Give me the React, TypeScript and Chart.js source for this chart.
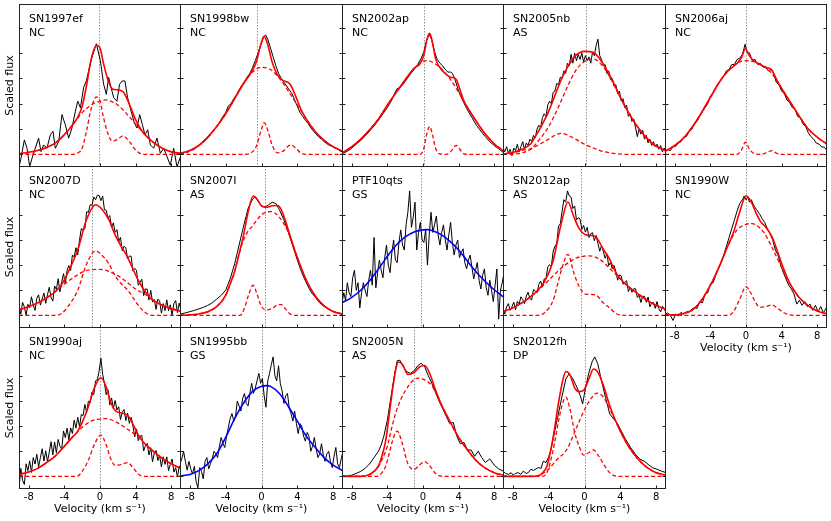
import React, { useEffect, useRef } from 'react';
import { Chart, registerables } from 'chart.js';

Chart.register(...registerables);
Chart.defaults.font.family = '"DejaVu Sans", sans-serif';

type Pt = [number, number];

// ---------- axis definitions ----------
const X_TICKS = [-8, -4, 0, 4, 8];
const Y_TICKS = [0, 1, 2, 3, 4, 5];
const X_MIN = -9.1;
const X_MAX = 9.1;
const Y_MIN = -0.5;
const Y_MAX = 5.94;
const X_TITLE = 'Velocity (km s\u207B\u00B9)';
const Y_TITLE = 'Scaled flux';

// fine velocity grid used by the noisy spectra (km/s)
const VEL_GRID = [
  -9.1, -8.9, -8.7, -8.5, -8.3, -8.1, -7.9, -7.7, -7.5, -7.3,
  -7.1, -6.9, -6.7, -6.5, -6.3, -6.1, -5.9, -5.7, -5.5, -5.3,
  -5.1, -4.9, -4.7, -4.5, -4.3, -4.1, -3.9, -3.7, -3.5, -3.3,
  -3.1, -2.9, -2.7, -2.5, -2.3, -2.1, -1.9, -1.7, -1.5, -1.3,
  -1.1, -0.9, -0.7, -0.5, -0.3, -0.1, 0.1, 0.3, 0.5, 0.7,
  0.9, 1.1, 1.3, 1.5, 1.7, 1.9, 2.1, 2.3, 2.5, 2.7,
  2.9, 3.1, 3.3, 3.5, 3.7, 3.9, 4.1, 4.3, 4.5, 4.7,
  4.9, 5.1, 5.3, 5.5, 5.7, 5.9, 6.1, 6.3, 6.5, 6.7,
  6.9, 7.1, 7.3, 7.5, 7.7, 7.9, 8.1, 8.3, 8.5, 8.7,
  8.9, 9.1,
];

// ---------- SN1997ef (NC) ----------
const SN1997EF_OBS: Pt[] = [[-9.1,-0.5],[-8.88,-0.16],[-8.5,0.57],[-8.2,0.24],[-7.9,-0.49],[-7.64,-0.16],[-7.27,0.24],[-6.9,0.64],[-6.63,0.11],[-6.33,0.37],[-5.96,0.24],[-5.58,0.77],[-5.28,0.91],[-5.02,0.24],[-4.64,0.51],[-4.27,1.57],[-3.9,1.17],[-3.52,0.64],[-3.15,1.04],[-2.77,1.7],[-2.5,2.1],[-2.2,1.84],[-1.84,2.64],[-1.54,2.9],[-1.27,3.3],[-0.9,3.84],[-0.41,4.37],[0.04,3.7],[0.41,2.77],[0.71,2.37],[0.97,3.04],[1.24,2.64],[1.54,2.24],[1.9,2.1],[2.2,2.77],[2.5,2.9],[2.8,2.9],[3.1,2.24],[3.5,1.7],[3.86,1.24],[4.16,1.04],[4.46,1.57],[4.76,1.17],[5.06,0.77],[5.36,0.97],[5.66,0.37],[6.03,0.24],[6.4,0.64],[6.78,0.04],[7.15,0.24],[7.53,-0.09],[7.9,-0.43],[8.28,0.24],[8.65,-0.5],[9.1,-0.03]];
const SN1997EF_FIT: Pt[] = [[-9.1,0.03],[-8,0.08],[-7,0.15],[-6,0.27],[-5,0.45],[-4,0.78],[-3,1.2],[-2.5,1.47],[-2,1.9],[-1.5,2.75],[-1,3.75],[-0.4,4.31],[0,4.2],[0.4,3.58],[0.9,2.94],[1.4,2.58],[1.9,2.55],[2.6,2.47],[3.3,1.98],[4,1.37],[4.6,0.98],[5,0.8],[6,0.47],[7,0.24],[8,0.1],[9.1,0.04]];
const SN1997EF_BROAD: Pt[] = [[-9.1,0.03],[-8,0.08],[-7,0.15],[-6,0.27],[-5,0.45],[-4,0.78],[-3,1.2],[-2,1.65],[-1,1.95],[0,2.1],[0.6,2.15],[1,2.13],[2,1.95],[3,1.6],[4,1.2],[5,0.8],[6,0.47],[7,0.24],[8,0.1],[9.1,0.04]];
const SN1997EF_NARROW: Pt[] = [[-9.1,0],[-3,0],[-2.5,0.05],[-2,0.25],[-1.5,0.95],[-1,1.8],[-0.4,2.27],[0,2.1],[0.4,1.45],[0.9,0.8],[1.4,0.52],[1.9,0.58],[2.6,0.73],[3.3,0.5],[4,0.17],[4.6,0.02],[5,0],[9.1,0]];

// ---------- SN1998bw (NC) ----------
const SN1998BW_OBS: Pt[] = [[-9.1,0.05],[-8.8,0.02],[-8.5,0.1],[-8.2,0.08],[-7.9,0.18],[-7.6,0.17],[-7.3,0.28],[-7,0.33],[-6.7,0.45],[-6.4,0.5],[-6.1,0.62],[-5.8,0.72],[-5.5,0.88],[-5.2,1.0],[-4.9,1.15],[-4.6,1.32],[-4.3,1.5],[-4,1.65],[-3.7,1.92],[-3.4,2.0],[-3.1,2.2],[-2.8,2.35],[-2.5,2.55],[-2.2,2.72],[-1.9,2.88],[-1.6,3.05],[-1.3,3.2],[-1,3.42],[-0.7,3.7],[-0.4,3.98],[-0.1,4.3],[0.2,4.6],[0.45,4.72],[0.7,4.55],[1,4.2],[1.3,3.85],[1.6,3.5],[1.9,3.2],[2.2,3.0],[2.5,2.85],[2.8,2.7],[3.1,2.55],[3.4,2.4],[3.7,2.15],[4,1.9],[4.3,1.65],[4.6,1.5],[4.9,1.35],[5.2,1.22],[5.5,1.05],[5.8,0.92],[6.1,0.8],[6.4,0.68],[6.7,0.6],[7,0.5],[7.3,0.42],[7.6,0.35],[7.9,0.32],[8.2,0.25],[8.5,0.22],[8.8,0.12],[9.1,0.1]];
const SN1998BW_FIT: Pt[] = [[-9.1,0.04],[-8,0.15],[-7,0.35],[-6,0.68],[-5,1.1],[-4,1.6],[-3,2.2],[-2,2.8],[-1.2,3.21],[-0.6,3.63],[0,4.44],[0.3,4.66],[0.7,4.33],[1.2,3.63],[1.8,3.13],[2.4,2.92],[3,2.83],[3.3,2.71],[3.8,2.31],[4.4,1.78],[5,1.4],[6,0.9],[7,0.55],[8,0.3],[9.1,0.12]];
const SN1998BW_BROAD: Pt[] = [[-9.1,0.04],[-8,0.15],[-7,0.35],[-6,0.68],[-5,1.1],[-4,1.6],[-3,2.2],[-2,2.8],[-1,3.25],[0,3.44],[1,3.35],[2,3.0],[3,2.5],[4,1.95],[5,1.4],[6,0.9],[7,0.55],[8,0.3],[9.1,0.12]];
const SN1998BW_NARROW: Pt[] = [[-9.1,0],[-1.8,0],[-1.2,0.05],[-0.6,0.3],[0,1.0],[0.3,1.25],[0.7,0.95],[1.2,0.35],[1.8,0.06],[2.4,0.12],[3,0.33],[3.3,0.37],[3.8,0.25],[4.4,0.05],[5,0],[9.1,0]];

// ---------- SN2002ap (NC) ----------
const SN2002AP_OBS: Pt[] = [[-9.1,0.03],[-8.5,0.12],[-8,0.25],[-7.5,0.4],[-7,0.55],[-6.5,0.72],[-6,0.92],[-5.5,1.12],[-5,1.35],[-4.5,1.6],[-4,1.85],[-3.5,2.15],[-3.2,2.4],[-2.9,2.6],[-2.6,2.62],[-2.2,2.78],[-1.8,2.98],[-1.4,3.18],[-1,3.35],[-0.6,3.55],[-0.2,3.8],[0.1,4.05],[0.4,4.5],[0.7,4.75],[1,4.5],[1.3,4.05],[1.6,3.75],[1.9,3.6],[2.2,3.5],[2.5,3.35],[2.8,3.25],[3.1,3.25],[3.3,3.2],[3.6,2.95],[4,2.5],[4.5,2.1],[5,1.75],[5.5,1.45],[6,1.15],[6.5,0.92],[7,0.7],[7.5,0.5],[8,0.35],[8.5,0.22],[9.1,0.05]];
const SN2002AP_FIT: Pt[] = [[-9.1,0.05],[-8,0.3],[-7,0.6],[-6,0.97],[-5,1.4],[-4,1.95],[-3,2.45],[-2,2.95],[-1,3.4],[-0.3,3.6],[0.1,3.93],[0.45,4.55],[0.75,4.78],[1.05,4.44],[1.4,3.8],[1.8,3.48],[2.6,3.16],[3.1,3.05],[3.6,3.0],[3.8,2.91],[4.1,2.61],[4.6,2.11],[5,1.85],[6,1.3],[7,0.8],[8,0.42],[9.1,0.12]];
const SN2002AP_BROAD: Pt[] = [[-9.1,0.05],[-8,0.3],[-7,0.6],[-6,0.97],[-5,1.4],[-4,1.95],[-3,2.45],[-2,2.95],[-1,3.4],[0,3.68],[0.5,3.7],[1,3.65],[2,3.4],[3,3.0],[4,2.45],[5,1.85],[6,1.3],[7,0.8],[8,0.42],[9.1,0.12]];
const SN2002AP_NARROW: Pt[] = [[-9.1,0],[-0.3,0],[0.1,0.25],[0.45,0.85],[0.75,1.1],[1.05,0.8],[1.4,0.25],[1.8,0.03],[2.6,0],[3.1,0.1],[3.6,0.33],[3.8,0.35],[4.1,0.22],[4.6,0.02],[5,0],[9.1,0]];

// ---------- SN2005nb (AS) ----------
const SN2005NB_OBS = [
  0.25, 0.1, 0.3, 0.05, 0.2, -0.05, 0.25, 0.15, 0.4, 0.1,
  0.3, 0.5, 0.2, 0.45, 0.35, 0.6, 0.5, 0.75, 0.65, 1.0,
  1.15, 1.05, 1.45, 1.6, 1.5, 1.95, 2.1, 2.0, 2.45, 2.5,
  2.8, 2.75, 3.05, 3.0, 3.3, 3.2, 3.6, 3.5, 3.95, 3.6,
  4.0, 3.7, 3.95, 3.75, 4.0, 3.65, 3.9, 3.7, 3.85, 3.6,
  4.05, 3.9, 4.3, 4.55, 3.9, 3.75, 3.5, 3.55, 3.2, 3.3,
  2.95, 3.0, 2.7, 2.75, 2.4, 2.5, 2.1, 2.2, 1.85, 1.95,
  1.5, 1.6, 1.3, 1.4, 1.05, 0.7, 1.0, 0.8, 0.95, 0.6,
  0.75, 0.45, 0.6, 0.35, 0.5, 0.3, 0.4, 0.2, 0.35, 0.1,
  0.25, 0.05,
];
const SN2005NB_FIT: Pt[] = [[-9.1,0.02],[-8,0.07],[-7,0.2],[-6,0.42],[-5.5,0.7],[-5,1.0],[-4,1.7],[-3,2.6],[-2.5,3.03],[-2,3.38],[-1,3.9],[0,4.07],[1,4.02],[2,3.62],[3,3.0],[4,2.26],[5,1.6],[6,1.05],[7,0.62],[8,0.32],[9.1,0.15]];
const SN2005NB_BROAD: Pt[] = [[-9.1,0],[-8,0.01],[-7,0.05],[-6,0.2],[-5.5,0.38],[-5,0.6],[-4,1.1],[-3,1.8],[-2,2.6],[-1,3.3],[0,3.67],[1,3.77],[2,3.5],[3,2.95],[4,2.25],[5,1.6],[6,1.05],[7,0.62],[8,0.32],[9.1,0.15]];
const SN2005NB_SIDE: Pt[] = [[-9.1,0.02],[-8,0.06],[-7,0.15],[-6,0.22],[-5,0.4],[-4,0.6],[-3,0.8],[-2.5,0.83],[-2,0.78],[-1,0.6],[0,0.4],[1,0.25],[2,0.12],[3,0.05],[4,0.01],[5,0],[9.1,0]];

// ---------- SN2006aj (NC) ----------
const SN2006AJ_OBS: Pt[] = [[-9.1,0.1],[-8.8,0.2],[-8.5,0.15],[-8.2,0.3],[-7.9,0.32],[-7.6,0.45],[-7.3,0.5],[-7,0.68],[-6.7,0.7],[-6.4,0.9],[-6.1,0.98],[-5.8,1.2],[-5.5,1.3],[-5.2,1.5],[-4.9,1.68],[-4.6,1.85],[-4.3,2.0],[-4,2.3],[-3.7,2.4],[-3.4,2.65],[-3.1,2.8],[-2.8,2.95],[-2.5,3.1],[-2.2,3.3],[-1.9,3.35],[-1.6,3.55],[-1.3,3.55],[-1,3.75],[-0.7,3.8],[-0.4,3.95],[-0.1,4.35],[0.1,4.05],[0.4,4.0],[0.7,3.7],[1,3.75],[1.3,3.55],[1.6,3.6],[1.9,3.45],[2.2,3.45],[2.5,3.3],[2.8,3.35],[3.1,3.2],[3.4,2.85],[3.7,2.75],[4,2.5],[4.3,2.4],[4.6,2.15],[4.9,2.05],[5.2,1.85],[5.5,1.8],[5.8,1.5],[6.1,1.45],[6.4,1.2],[6.7,1.1],[7,0.85],[7.3,0.7],[7.6,0.6],[7.9,0.45],[8.2,0.4],[8.5,0.3],[8.8,0.28],[9.1,0.15]];
const SN2006AJ_FIT: Pt[] = [[-9.1,0.12],[-8,0.35],[-7,0.65],[-6,1.1],[-5,1.65],[-4,2.25],[-3,2.85],[-2,3.3],[-1,3.6],[-0.5,3.83],[-0.07,4.17],[0.4,3.88],[0.9,3.69],[1.6,3.54],[2.3,3.43],[2.9,3.33],[3.4,2.98],[3.9,2.66],[5,2.05],[6,1.5],[7,1.0],[8,0.68],[9.1,0.4]];
const SN2006AJ_BROAD: Pt[] = [[-9.1,0.12],[-8,0.35],[-7,0.65],[-6,1.1],[-5,1.65],[-4,2.25],[-3,2.85],[-2,3.3],[-1,3.6],[0,3.7],[1,3.65],[2,3.47],[3,3.15],[4,2.6],[5,2.05],[6,1.5],[7,1.0],[8,0.68],[9.1,0.4]];
const SN2006AJ_NARROW: Pt[] = [[-9.1,0],[-1,0],[-0.5,0.18],[-0.07,0.48],[0.4,0.2],[0.9,0.03],[1.6,0],[2.3,0.06],[2.9,0.15],[3.4,0.05],[3.9,0],[9.1,0]];

// ---------- SN2007D (NC) ----------
const SN2007D_OBS = [
  0.38, 0.05, 0.52, 0.34, 0.01, 0.44, 0.31, 0.74, 0.42, 0.2,
  0.68, 0.82, 0.41, 0.65, 0.89, 0.48, 0.82, 1.12, 0.72, 0.57,
  1.17, 1.03, 1.46, 0.94, 1.34, 1.66, 1.25, 1.79, 1.98, 1.79,
  2.4, 2.32, 2.69, 2.41, 3.0, 3.45, 3.4, 3.45, 4.12, 4.1,
  4.4, 4.37, 4.71, 4.6, 4.77, 4.77, 4.56, 4.75, 4.2, 4.18,
  3.86, 3.97, 3.5, 3.68, 3.3, 3.41, 2.93, 3.1, 2.57, 2.75,
  2.69, 2.25, 2.36, 2.35, 1.76, 1.87, 1.8, 1.2, 1.32, 1.44,
  0.79, 1.05, 1.05, 0.61, 1.0, 0.53, 0.63, 0.24, 0.65, 0.57,
  0.09, 0.47, 0.19, 0.62, 0.19, 0.42, 0.0, 0.48, 0.59, 0.11,
  0.49, 0.22,
];
const SN2007D_FIT: Pt[] = [[-9.1,0.23],[-8,0.35],[-7,0.5],[-6,0.7],[-5,0.95],[-4.3,1.24],[-3.5,1.78],[-2.5,2.61],[-1.5,3.82],[-0.5,4.4],[0.2,4.23],[1,3.8],[1.7,3.2],[2.4,2.73],[3,2.38],[3.6,1.93],[4.2,1.46],[4.8,1.09],[5.5,0.76],[6,0.6],[7,0.4],[8,0.27],[9.1,0.17]];
const SN2007D_BROAD: Pt[] = [[-9.1,0.23],[-8,0.35],[-7,0.5],[-6,0.7],[-5,0.95],[-4,1.25],[-3,1.5],[-2,1.72],[-1,1.82],[0,1.83],[1,1.75],[2,1.58],[3,1.33],[4,1.05],[5,0.85],[6,0.6],[7,0.4],[8,0.27],[9.1,0.17]];
const SN2007D_NARROW: Pt[] = [[-9.1,0],[-5,0],[-4.3,0.08],[-3.5,0.4],[-2.5,1.0],[-1.5,2.05],[-0.5,2.57],[0.2,2.4],[1,2.05],[1.7,1.57],[2.4,1.25],[3,1.05],[3.6,0.77],[4.2,0.45],[4.8,0.2],[5.5,0.03],[6,0],[9.1,0]];

// ---------- SN2007I (AS) ----------
const SN2007I_OBS: Pt[] = [[-9.1,0.05],[-8.5,0.1],[-8,0.15],[-7.5,0.2],[-7,0.26],[-6.5,0.32],[-6,0.4],[-5.5,0.5],[-5,0.65],[-4.5,0.8],[-4,1.0],[-3.5,1.45],[-3,2.05],[-2.5,2.8],[-2,3.55],[-1.5,4.25],[-1,4.62],[-0.7,4.72],[-0.4,4.55],[0,4.35],[0.4,4.3],[0.8,4.4],[1.2,4.5],[1.6,4.45],[2,4.2],[2.5,3.8],[3,3.3],[3.5,2.75],[4,2.2],[4.5,1.7],[5,1.3],[5.5,0.95],[6,0.72],[6.5,0.5],[7,0.35],[7.5,0.25],[8,0.15],[8.5,0.1],[9.1,0.05]];
const SN2007I_FIT: Pt[] = [[-9.1,0],[-8,0.02],[-7,0.06],[-6,0.15],[-5,0.35],[-4,0.8],[-3.5,1.25],[-3,1.75],[-2.5,2.45],[-2,3.2],[-1.5,4.1],[-0.94,4.75],[-0.5,4.63],[0,4.35],[0.6,4.3],[1.2,4.36],[1.8,4.37],[2.2,4.21],[2.7,3.73],[3.2,3.16],[3.8,2.5],[5,1.4],[6,0.77],[7,0.38],[8,0.16],[9.1,0.05]];
const SN2007I_BROAD: Pt[] = [[-9.1,0],[-8,0.02],[-7,0.06],[-6,0.15],[-5,0.35],[-4,0.8],[-3.5,1.25],[-3,1.75],[-2.5,2.45],[-2,3.0],[-1.5,3.35],[-1,3.55],[-0.5,3.8],[0,4.0],[1,4.13],[2,3.9],[3,3.3],[4,2.3],[5,1.4],[6,0.77],[7,0.38],[8,0.16],[9.1,0.05]];
const SN2007I_NARROW: Pt[] = [[-9.1,0],[-2.4,0],[-2,0.2],[-1.5,0.75],[-0.94,1.2],[-0.5,0.85],[0,0.35],[0.6,0.22],[1.2,0.28],[1.8,0.42],[2.2,0.43],[2.7,0.25],[3.2,0.06],[3.8,0],[9.1,0]];

// ---------- PTF10qts (GS) ----------
const PTF10QTS_OBS = [
  0.5, 0.9, 0.6, 1.3, 0.9, 0.75, 1.5, 1.8, 1.0, 1.3,
  0.3, 0.9, 1.3, 1.0, 0.75, 1.4, 1.8, 1.2, 3.1, 1.1,
  1.7, 2.2, 1.8, 1.5, 2.3, 2.8, 2.0, 1.7, 2.5, 3.0,
  2.2, 2.1, 2.9, 3.4, 2.8, 2.6, 3.6, 4.1, 4.95, 3.5,
  3.9, 4.5, 2.6, 3.3, 3.7, 3.0, 2.9, 3.4, 2.0, 3.2,
  4.1, 3.3, 3.6, 3.95, 3.2, 2.8, 3.3, 3.6, 3.0, 2.6,
  3.2, 3.7, 2.9, 2.4, 2.8, 3.0, 2.3, 2.5, 2.65, 2.1,
  1.85, 2.2, 2.4, 1.9, 1.45, 1.8, 2.1, 1.4, 1.05, 1.6,
  1.85, 1.1, 0.8, 1.4, 1.0, 0.55, 1.2, 1.85, -0.15, 1.0,
  1.3, 1.7,
];
const PTF10QTS_FIT: Pt[] = [[-9.1,0.5],[-8,0.72],[-7,1.0],[-6,1.38],[-5,1.85],[-4,2.35],[-3,2.8],[-2,3.12],[-1,3.32],[0,3.4],[0.5,3.41],[1,3.38],[2,3.22],[3,2.95],[4,2.6],[5,2.15],[6,1.72],[7,1.35],[8,1.02],[9.1,0.72]];

// ---------- SN2012ap (AS) ----------
const SN2012AP_OBS = [
  0.23, 0.06, 0.34, 0.47, 0.2, 0.34, 0.53, 0.22, 0.56, 0.45,
  0.74, 0.63, 0.47, 0.77, 0.92, 0.67, 0.62, 1.02, 0.98, 0.9,
  1.23, 1.37, 1.13, 1.45, 1.45, 1.92, 2.02, 1.95, 2.55, 2.75,
  2.85, 3.55, 3.65, 4.15, 4.6, 4.5, 4.95, 4.75, 4.7, 4.25,
  4.35, 3.8, 3.88, 3.84, 3.42, 3.58, 3.31, 3.5, 3.1, 3.25,
  3.29, 2.97, 3.18, 2.87, 2.55, 2.77, 2.55, 2.27, 2.45, 1.98,
  2.11, 1.85, 1.99, 1.74, 1.4, 1.61, 1.57, 1.24, 1.31, 1.38,
  0.95, 1.13, 0.92, 1.06, 1.06, 0.71, 0.81, 0.51, 0.76, 0.76,
  0.52, 0.73, 0.34, 0.5, 0.51, 0.28, 0.55, 0.27, 0.14, 0.36,
  0.28, 0.1,
];
const SN2012AP_FIT: Pt[] = [[-9.1,0.15],[-8,0.3],[-7,0.5],[-6,0.75],[-5.5,0.9],[-4.5,1.32],[-3.5,2.17],[-3,3.0],[-2.5,3.8],[-1.85,4.51],[-1.2,3.93],[-0.6,3.46],[0.1,3.21],[1.2,3.14],[2.1,2.63],[2.8,2.24],[3.5,1.7],[4.2,1.38],[5,1.12],[6,0.85],[7,0.6],[8,0.4],[9.1,0.24]];
const SN2012AP_BROAD: Pt[] = [[-9.1,0.15],[-8,0.3],[-7,0.5],[-6,0.75],[-5,1.05],[-4,1.4],[-3,1.75],[-2,2.05],[-1,2.27],[0,2.36],[0.5,2.37],[1,2.35],[2,2.15],[3,1.8],[4,1.45],[5,1.12],[6,0.85],[7,0.6],[8,0.4],[9.1,0.24]];
const SN2012AP_NARROW: Pt[] = [[-9.1,0],[-5.5,0],[-4.5,0.1],[-3.5,0.6],[-3,1.25],[-2.5,1.9],[-1.85,2.43],[-1.2,1.7],[-0.6,1.15],[0.1,0.85],[1.2,0.82],[2.1,0.5],[2.8,0.3],[3.5,0.08],[4.2,0],[9.1,0]];

// ---------- SN1990W (NC) ----------
const SN1990W_OBS: Pt[] = [[-9.1,0.05],[-8.8,0.1],[-8.5,0.0],[-8.2,-0.2],[-7.9,0.05],[-7.6,-0.02],[-7.3,0.12],[-7.0,0.05],[-6.7,0.15],[-6.4,0.12],[-6.1,0.25],[-5.8,0.3],[-5.5,0.28],[-5.2,0.55],[-4.9,0.5],[-4.6,0.85],[-4.3,0.9],[-4.0,1.25],[-3.7,1.3],[-3.4,1.6],[-3.1,1.85],[-2.8,2.1],[-2.5,2.4],[-2.2,2.75],[-1.9,3.1],[-1.6,3.45],[-1.3,3.8],[-1.0,4.15],[-0.7,4.45],[-0.4,4.6],[-0.2,4.75],[0.0,4.6],[0.2,4.7],[0.4,4.5],[0.6,4.6],[0.9,4.35],[1.2,4.2],[1.5,4.05],[1.8,3.85],[2.1,3.7],[2.4,3.45],[2.7,3.25],[3.0,3.0],[3.3,2.6],[3.6,2.4],[3.9,2.0],[4.2,1.7],[4.5,1.45],[4.8,1.2],[5.1,1.05],[5.4,0.85],[5.7,0.45],[6.0,0.6],[6.3,0.4],[6.6,0.55],[6.9,0.35],[7.2,0.45],[7.5,0.2],[7.8,0.4],[8.1,0.15],[8.4,0.35],[8.7,0.1],[9.1,0.35]];
const SN1990W_FIT: Pt[] = [[-9.1,0.03],[-8,0.02],[-7,0.08],[-6,0.22],[-5,0.6],[-4,1.2],[-3,1.95],[-2,2.8],[-1.4,3.31],[-0.7,4.12],[0,4.76],[0.6,4.5],[1.1,4.09],[1.6,3.75],[2.2,3.52],[2.9,3.14],[3.5,2.58],[4.2,1.88],[4.9,1.29],[5.5,0.95],[6,0.7],[7,0.38],[8,0.18],[9.1,0.06]];
const SN1990W_BROAD: Pt[] = [[-9.1,0.03],[-8,0.02],[-7,0.08],[-6,0.22],[-5,0.6],[-4,1.2],[-3,1.95],[-2,2.8],[-1,3.4],[0,3.62],[0.7,3.65],[1,3.62],[2,3.3],[3,2.65],[4,1.9],[5,1.2],[6,0.7],[7,0.38],[8,0.18],[9.1,0.06]];
const SN1990W_NARROW: Pt[] = [[-9.1,0],[-2,0],[-1.4,0.15],[-0.7,0.65],[0,1.14],[0.6,0.85],[1.1,0.5],[1.6,0.32],[2.2,0.35],[2.9,0.42],[3.5,0.3],[4.2,0.12],[4.9,0.02],[5.5,0],[9.1,0]];

// ---------- SN1990aj (NC) ----------
const SN1990AJ_OBS = [
  -0.51, 0.32, -0.15, -0.32, 0.5, 0.23, 0.62, 0.16, 0.75, 0.49,
  0.88, 0.38, 0.74, 1.1, 0.61, 1.02, 0.59, 0.96, 1.38, 0.85,
  1.37, 0.94, 1.47, 1.2, 1.08, 1.81, 1.54, 1.92, 1.45, 1.93,
  1.71, 2.24, 1.92, 2.35, 1.98, 2.46, 2.42, 2.86, 2.55, 2.99,
  2.93, 3.35, 3.25, 3.8, 3.84, 4.18, 4.7, 4.06, 3.7, 3.25,
  3.45, 2.84, 3.12, 2.7, 3.02, 2.64, 2.77, 2.26, 2.55, 2.66,
  2.22, 2.51, 2.11, 2.35, 2.01, 1.57, 1.89, 1.42, 1.6, 1.63,
  1.01, 1.22, 1.31, 0.85, 1.14, 0.58, 0.93, 1.03, 0.63, 0.83,
  0.38, 0.78, 0.48, 0.78, 0.23, 0.48, 0.69, 0.17, 0.35, -0.02,
  0.41, 0.34,
];
const SN1990AJ_FIT: Pt[] = [[-9.1,0.08],[-8,0.18],[-7,0.32],[-6,0.55],[-5,0.82],[-4,1.2],[-3,1.6],[-2.6,1.74],[-2,2.15],[-1.3,2.78],[-0.6,3.55],[0.1,3.92],[0.7,3.55],[1.2,2.95],[1.7,2.62],[2.4,2.52],[3.1,2.43],[3.7,2.08],[4.3,1.65],[4.9,1.35],[6,1.0],[7,0.72],[8,0.5],[9.1,0.32]];
const SN1990AJ_BROAD: Pt[] = [[-9.1,0.08],[-8,0.18],[-7,0.32],[-6,0.55],[-5,0.82],[-4,1.2],[-3,1.6],[-2,1.95],[-1,2.2],[0,2.28],[0.6,2.3],[1,2.28],[2,2.13],[3,1.9],[4,1.65],[5,1.32],[6,1.0],[7,0.72],[8,0.5],[9.1,0.32]];
const SN1990AJ_NARROW: Pt[] = [[-9.1,0],[-2.6,0],[-2,0.2],[-1.3,0.65],[-0.6,1.3],[0.1,1.64],[0.7,1.25],[1.2,0.7],[1.7,0.44],[2.4,0.48],[3.1,0.55],[3.7,0.35],[4.3,0.1],[4.9,0],[9.1,0]];

// ---------- SN1995bb (GS) ----------
const SN1995BB_OBS = [
  0.5, 0.7, 1.0, 0.6, 0.25, 0.6, 0.3, 0.1, 0.4, -0.2,
  -0.45, 0.35, 0.2, -0.1, 0.6, 0.75, 0.3, 0.5, 0.7, 1.0,
  0.9, 0.75, 1.2, 1.55, 1.3, 1.15, 1.6, 1.95, 2.3, 2.5,
  2.2, 2.4, 3.0, 2.8, 2.6, 3.1, 3.3, 2.9, 2.8, 3.3,
  3.7, 3.3, 3.5, 3.8, 4.1, 3.7, 3.9, 3.2, 2.75, 3.8,
  4.1, 4.45, 4.75, 4.0, 3.8, 4.4, 3.7, 3.4, 2.9, 3.2,
  3.3, 2.7, 2.5, 2.2, 2.6, 2.1, 1.7, 2.1, 2.0, 1.6,
  1.4, 1.75, 1.6, 1.0, 1.2, 1.55, 1.1, 0.75, 0.9, 1.3,
  0.85, 0.6, 0.9, 1.0, 0.6, 0.35, 0.8, 1.15, 0.5, 0.35,
  0.7, 1.0,
];
const SN1995BB_FIT: Pt[] = [[-9.1,0.02],[-8,0.08],[-7,0.23],[-6,0.5],[-5,0.9],[-4,1.55],[-3,2.3],[-2,2.92],[-1,3.38],[0,3.58],[0.6,3.61],[1,3.58],[2,3.3],[3,2.78],[4,2.2],[5,1.6],[6,1.15],[7,0.75],[8,0.45],[9.1,0.22]];

// ---------- SN2005N (AS) ----------
const SN2005N_OBS: Pt[] = [[-9.1,0.0],[-8.5,0.02],[-8,0.05],[-7.5,0.12],[-7,0.2],[-6.5,0.32],[-6,0.5],[-5.5,0.75],[-5,1.0],[-4.7,1.25],[-4.4,1.6],[-4,2.25],[-3.6,3.15],[-3.2,4.05],[-2.9,4.6],[-2.6,4.62],[-2.2,4.35],[-1.8,4.15],[-1.4,4.1],[-1,4.2],[-0.6,4.4],[-0.2,4.5],[0.2,4.35],[0.6,4.0],[1,3.7],[1.4,3.35],[1.8,3.0],[2.2,2.7],[2.6,2.4],[3,2.1],[3.4,2.15],[3.8,1.6],[4.2,1.3],[4.6,1.35],[5,1.05],[5.4,1.05],[5.8,0.8],[6.2,1.0],[6.6,0.75],[7,0.55],[7.5,0.7],[8,0.45],[8.5,0.3],[9.1,0.2]];
const SN2005N_FIT: Pt[] = [[-9.1,0],[-7,0],[-6,0.08],[-5,0.42],[-4.6,0.83],[-4.2,1.4],[-3.8,2.45],[-3.4,3.5],[-3.0,4.35],[-2.75,4.55],[-2.3,4.45],[-1.7,4.05],[-1,4.13],[-0.4,4.35],[0.2,4.41],[0.8,4.05],[1.4,3.44],[2,2.91],[3,2.2],[4,1.55],[5,1.05],[6,0.62],[7,0.33],[8,0.15],[9.1,0.04]];
const SN2005N_BROAD: Pt[] = [[-9.1,0],[-7,0],[-6,0.08],[-5,0.4],[-4.5,0.75],[-4,1.2],[-3.5,1.95],[-3,2.6],[-2.5,3.05],[-2,3.4],[-1,3.85],[-0.5,3.91],[0,3.87],[1,3.6],[2,2.9],[3,2.2],[4,1.55],[5,1.05],[6,0.62],[7,0.33],[8,0.15],[9.1,0.04]];
const SN2005N_NARROW: Pt[] = [[-9.1,0],[-5.2,0],[-4.6,0.15],[-4.2,0.4],[-3.8,0.9],[-3.4,1.45],[-2.9,1.8],[-2.3,1.28],[-1.7,0.5],[-1,0.28],[-0.4,0.45],[0.2,0.59],[0.8,0.4],[1.4,0.12],[2,0.01],[2.5,0],[9.1,0]];

// ---------- SN2012fh (DP) ----------
const SN2012FH_OBS: Pt[] = [[-9.1,0.21],[-8.8,0.12],[-8.5,0.08],[-8.2,0.15],[-7.96,0.05],[-7.7,0.12],[-7.4,0.15],[-7.1,0.08],[-6.84,0.21],[-6.5,0.12],[-6.28,0.15],[-6,0.28],[-5.7,0.24],[-5.4,0.3],[-5.15,0.35],[-4.85,0.32],[-4.6,0.61],[-4.3,0.55],[-4.03,0.75],[-3.75,1.05],[-3.47,1.55],[-3.0,2.35],[-2.53,3.15],[-2.08,3.88],[-1.71,4.08],[-1.3,3.88],[-0.85,3.55],[-0.47,3.21],[-0.21,2.88],[0.09,3.48],[0.46,4.08],[0.84,4.55],[1.14,4.75],[1.48,4.48],[1.89,3.81],[2.34,3.15],[2.82,2.48],[3.27,2.28],[3.72,2.08],[4.1,1.81],[4.58,1.48],[5.15,1.15],[5.7,0.88],[6.2,0.68],[6.65,0.61],[7.1,0.48],[7.58,0.35],[8.14,0.28],[8.6,0.21],[9.1,0.15]];
const SN2012FH_FIT: Pt[] = [[-9.1,0],[-6,0],[-5,0.05],[-4.8,0.1],[-4.2,0.4],[-3.5,1.55],[-2.9,2.93],[-2.4,3.86],[-2.08,4.17],[-1.6,4.02],[-1.1,3.52],[-0.6,3.37],[-0.1,3.42],[0.5,3.89],[1,4.27],[1.6,4.07],[2.2,3.52],[2.8,2.83],[3.3,2.36],[4,1.8],[5,1.15],[6,0.68],[7,0.35],[8,0.15],[9.1,0.05]];
const SN2012FH_BROAD: Pt[] = [[-9.1,0],[-6,0],[-5,0.05],[-4,0.3],[-3,0.7],[-2,1.05],[-1,1.85],[0,2.65],[1,3.22],[1.4,3.31],[2,3.2],[3,2.55],[4,1.8],[5,1.15],[6,0.68],[7,0.35],[8,0.15],[9.1,0.05]];
const SN2012FH_NARROW: Pt[] = [[-9.1,0],[-4.8,0],[-4.2,0.15],[-3.5,1.05],[-2.9,2.2],[-2.4,2.95],[-2.08,3.15],[-1.6,2.65],[-1.1,1.75],[-0.6,1.2],[-0.1,0.85],[0.5,0.95],[1,1.05],[1.6,0.8],[2.2,0.45],[2.8,0.15],[3.3,0.03],[4,0],[9.1,0]];

// ---------- layout / style ----------
const COL_EDGES = [19, 180, 342, 503, 665, 826];
const ROW_EDGES = [4, 166, 327, 488];
const AXIS_H = 38;
const RED = '#ff0000';
const BLUE = '#0000ff';
const TICK_LEN = 3.5;

const onGrid = (ys: number[]): Pt[] =>
  VEL_GRID.map((v, i) => [v, ys[i]] as Pt).filter((p) => p[1] !== undefined);

interface PanelDef {
  name: string;
  cls: string;
  row: number;
  col: number;
  center: number;
  obs: Pt[];
  fit: Pt[];
  fitColor: string;
  comps: Pt[][];
}

const PANELS: PanelDef[] = [
  { name: 'SN1997ef', cls: 'NC', row: 0, col: 0, center: -0.1, obs: SN1997EF_OBS, fit: SN1997EF_FIT, fitColor: RED, comps: [SN1997EF_BROAD, SN1997EF_NARROW] },
  { name: 'SN1998bw', cls: 'NC', row: 0, col: 1, center: -0.5, obs: SN1998BW_OBS, fit: SN1998BW_FIT, fitColor: RED, comps: [SN1998BW_BROAD, SN1998BW_NARROW] },
  { name: 'SN2002ap', cls: 'NC', row: 0, col: 2, center: 0.15, obs: SN2002AP_OBS, fit: SN2002AP_FIT, fitColor: RED, comps: [SN2002AP_BROAD, SN2002AP_NARROW] },
  { name: 'SN2005nb', cls: 'AS', row: 0, col: 3, center: 0.2, obs: onGrid(SN2005NB_OBS), fit: SN2005NB_FIT, fitColor: RED, comps: [SN2005NB_BROAD, SN2005NB_SIDE] },
  { name: 'SN2006aj', cls: 'NC', row: 0, col: 4, center: 0, obs: SN2006AJ_OBS, fit: SN2006AJ_FIT, fitColor: RED, comps: [SN2006AJ_BROAD, SN2006AJ_NARROW] },
  { name: 'SN2007D', cls: 'NC', row: 1, col: 0, center: -0.9, obs: onGrid(SN2007D_OBS), fit: SN2007D_FIT, fitColor: RED, comps: [SN2007D_BROAD, SN2007D_NARROW] },
  { name: 'SN2007I', cls: 'AS', row: 1, col: 1, center: 0.43, obs: SN2007I_OBS, fit: SN2007I_FIT, fitColor: RED, comps: [SN2007I_BROAD, SN2007I_NARROW] },
  { name: 'PTF10qts', cls: 'GS', row: 1, col: 2, center: -0.2, obs: onGrid(PTF10QTS_OBS), fit: PTF10QTS_FIT, fitColor: BLUE, comps: [] },
  { name: 'SN2012ap', cls: 'AS', row: 1, col: 3, center: -0.4, obs: onGrid(SN2012AP_OBS), fit: SN2012AP_FIT, fitColor: RED, comps: [SN2012AP_BROAD, SN2012AP_NARROW] },
  { name: 'SN1990W', cls: 'NC', row: 1, col: 4, center: 0, obs: SN1990W_OBS, fit: SN1990W_FIT, fitColor: RED, comps: [SN1990W_BROAD, SN1990W_NARROW] },
  { name: 'SN1990aj', cls: 'NC', row: 2, col: 0, center: 0, obs: onGrid(SN1990AJ_OBS), fit: SN1990AJ_FIT, fitColor: RED, comps: [SN1990AJ_BROAD, SN1990AJ_NARROW] },
  { name: 'SN1995bb', cls: 'GS', row: 2, col: 1, center: 0, obs: onGrid(SN1995BB_OBS), fit: SN1995BB_FIT, fitColor: BLUE, comps: [] },
  { name: 'SN2005N', cls: 'AS', row: 2, col: 2, center: -1.0, obs: SN2005N_OBS, fit: SN2005N_FIT, fitColor: RED, comps: [SN2005N_BROAD, SN2005N_NARROW] },
  { name: 'SN2012fh', cls: 'DP', row: 2, col: 3, center: 0, obs: SN2012FH_OBS, fit: SN2012FH_FIT, fitColor: RED, comps: [SN2012FH_BROAD, SN2012FH_NARROW] },
];

const toXY = (pts: Pt[]) => pts.map(([x, y]) => ({ x, y }));

function Panel({ def }: { def: PanelDef }) {
  const ref = useRef<HTMLCanvasElement>(null);
  const xlab = def.row === 2 || (def.row === 1 && def.col === 4);
  const ylab = def.col === 0;
  const left = ylab ? 0 : COL_EDGES[def.col];
  const width = COL_EDGES[def.col + 1] + 1 - left;
  const top = ROW_EDGES[def.row];
  const plotH = ROW_EDGES[def.row + 1] + 1 - top;
  const height = plotH + (xlab ? AXIS_H : 0);

  useEffect(() => {
    const decor = {
      id: 'decor',
      beforeDatasetsDraw(chart: any) {
        const { ctx, chartArea: a, scales } = chart;
        const px = Math.round(scales.x.getPixelForValue(def.center)) + 0.5;
        ctx.save();
        ctx.strokeStyle = '#777';
        ctx.lineWidth = 0.8;
        ctx.setLineDash([1.5, 1.5]);
        ctx.beginPath();
        ctx.moveTo(px, a.top);
        ctx.lineTo(px, a.bottom);
        ctx.stroke();
        ctx.restore();
      },
      afterDatasetsDraw(chart: any) {
        const { ctx, chartArea: a, scales } = chart;
        ctx.save();
        ctx.strokeStyle = '#222';
        ctx.lineWidth = 1;
        ctx.strokeRect(a.left + 0.5, a.top + 0.5, a.right - a.left - 1, a.bottom - a.top - 1);
        ctx.beginPath();
        for (const v of Y_TICKS) {
          const py = Math.round(scales.y.getPixelForValue(v)) + 0.5;
          ctx.moveTo(a.left, py);
          ctx.lineTo(a.left + TICK_LEN, py);
          ctx.moveTo(a.right, py);
          ctx.lineTo(a.right - TICK_LEN, py);
        }
        for (const v of X_TICKS) {
          const px = Math.round(scales.x.getPixelForValue(v)) + 0.5;
          ctx.moveTo(px, a.bottom);
          ctx.lineTo(px, a.bottom - TICK_LEN);
        }
        ctx.stroke();
        ctx.fillStyle = '#000';
        ctx.font = '11px "DejaVu Sans"';
        ctx.textBaseline = 'alphabetic';
        ctx.textAlign = 'left';
        ctx.fillText(def.name, a.left + 10, a.top + 17.5);
        ctx.fillText(def.cls, a.left + 10, a.top + 31.5);
        ctx.restore();
      },
    };

    const datasets: any[] = [
      {
        data: toXY(def.fit),
        borderColor: def.fitColor,
        borderWidth: 1.6,
        pointRadius: 0,
        cubicInterpolationMode: 'monotone',
        order: 0,
      },
      ...def.comps.map((c) => ({
        data: toXY(c),
        borderColor: RED,
        borderWidth: 1.3,
        borderDash: [4, 2.5],
        pointRadius: 0,
        cubicInterpolationMode: 'monotone',
        order: 1,
      })),
      {
        data: toXY(def.obs),
        borderColor: '#000',
        borderWidth: 1,
        pointRadius: 0,
        tension: 0,
        order: 2,
      },
    ];

    const xScale: any = xlab
      ? {
          type: 'linear',
          min: X_MIN,
          max: X_MAX,
          display: true,
          grid: { display: false, drawTicks: false },
          border: { display: false },
          ticks: { color: '#000', font: { size: 10 }, padding: 2, maxRotation: 0, autoSkip: false },
          afterBuildTicks: (s: any) => {
            s.ticks = X_TICKS.map((v) => ({ value: v }));
          },
          afterFit: (s: any) => {
            s.height = AXIS_H;
            s.paddingLeft = 0;
            s.paddingRight = 0;
          },
          title: {
            display: true,
            text: X_TITLE,
            color: '#000',
            font: { size: 11 },
            padding: { top: 0, bottom: 11 },
          },
        }
      : { type: 'linear', min: X_MIN, max: X_MAX, display: false };

    const yScale: any = ylab
      ? {
          type: 'linear',
          min: Y_MIN,
          max: Y_MAX,
          display: true,
          grid: { display: false, drawTicks: false },
          border: { display: false },
          ticks: { display: false },
          afterFit: (s: any) => {
            s.width = COL_EDGES[0];
            s.paddingTop = 0;
            s.paddingBottom = 0;
          },
          title: {
            display: true,
            text: Y_TITLE,
            color: '#000',
            font: { size: 11 },
            padding: { top: 3.4, bottom: 0 },
          },
        }
      : { type: 'linear', min: Y_MIN, max: Y_MAX, display: false };

    const chart = new Chart(ref.current as HTMLCanvasElement, {
      type: 'line',
      data: { datasets },
      options: {
        animation: false,
        responsive: false,
        events: [],
        layout: { padding: 0 },
        plugins: { legend: { display: false }, tooltip: { enabled: false } },
        scales: { x: xScale, y: yScale },
      } as any,
      plugins: [decor],
    });
    return () => chart.destroy();
  }, []);

  return (
    <canvas
      ref={ref}
      width={width}
      height={height}
      style={{ position: 'absolute', left, top, width, height }}
    />
  );
}

export default function App() {
  return (
    <div style={{ position: 'absolute', left: 0, top: 0, width: 831, height: 521, background: '#fff', overflow: 'hidden' }}>
      {PANELS.map((p) => (
        <Panel key={p.name} def={p} />
      ))}
    </div>
  );
}
